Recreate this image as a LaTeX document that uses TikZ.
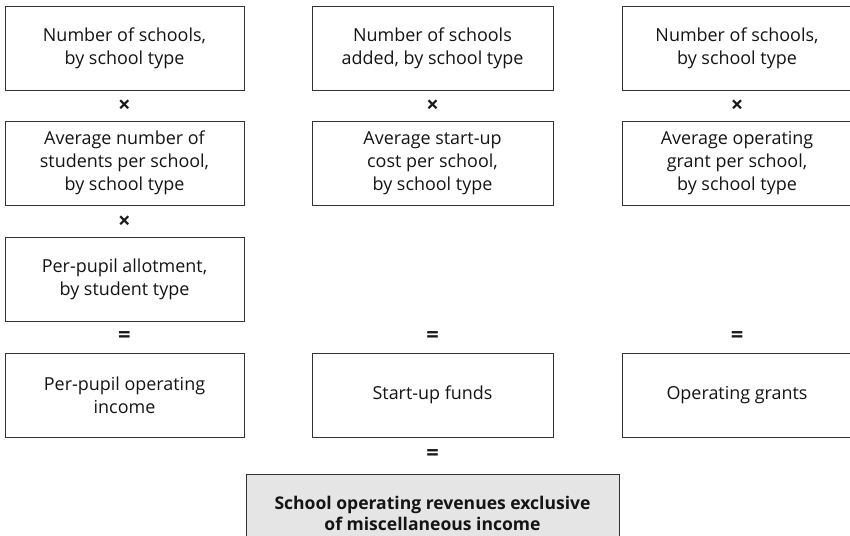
\documentclass[tikz,border=0pt]{standalone}
\usepackage{fontspec}
\setmainfont{Open Sans}
\begin{document}
\begin{tikzpicture}[x=1bp,y=-1bp,
  box/.style={draw=black!80, line width=0.9bp, align=center, inner sep=0pt,
    minimum height=84bp, font=\fontsize{18}{23}\selectfont, text=black!92},
  wideA/.style={minimum width=239bp},
  wideB/.style={minimum width=241bp},
  wideC/.style={minimum width=230bp},
  resbox/.style={box, fill=black!10, minimum width=373bp, minimum height=78bp, font=\fontsize{17.6}{21}\selectfont\bfseries},
  op/.style={inner sep=0pt, font=\fontsize{22}{24}\selectfont\bfseries, text=black!90}]
\useasboundingbox (0,0) rectangle (850,536);
% column 1
\node[box, wideA] (a1) at (124.5,48) {Number of schools,\\by school type};
\node[op] (ax1) at (124.5,106) {×};
\node[box, wideA] (a2) at (124.5,163) {Average number of\\students per school,\\by school type};
\node[op] (ax2) at (124.5,222) {×};
\node[box, wideA] (a3) at (124.5,279) {Per-pupil allotment,\\by student type};
\node[op] (aeq) at (124.5,337) {=};
\node[box, wideA] (a4) at (124.5,395) {Per-pupil operating\\income};
% column 2
\node[box, wideB] (b1) at (432.5,48) {Number of schools\\added, by school type};
\node[op] (bx1) at (432.5,106) {×};
\node[box, wideB] (b2) at (432.5,163) {Average start-up\\cost per school,\\by school type};
\node[op] (beq) at (432.5,337) {=};
\node[box, wideB] (b4) at (432.5,395) {Start-up funds};
% column 3
\node[box, wideC] (c1) at (737,48) {Number of schools,\\by school type};
\node[op] (cx1) at (737,106) {×};
\node[box, wideC] (c2) at (737,163) {Average operating\\grant per school,\\by school type};
\node[op] (ceq) at (737,337) {=};
\node[box, wideC] (c4) at (737,395) {Operating grants};
% result
\node[op] (req) at (432.5,455) {=};
\node[resbox] (r) at (432.5,513) {School operating revenues exclusive\\of miscellaneous income};
\end{tikzpicture}
\end{document}
